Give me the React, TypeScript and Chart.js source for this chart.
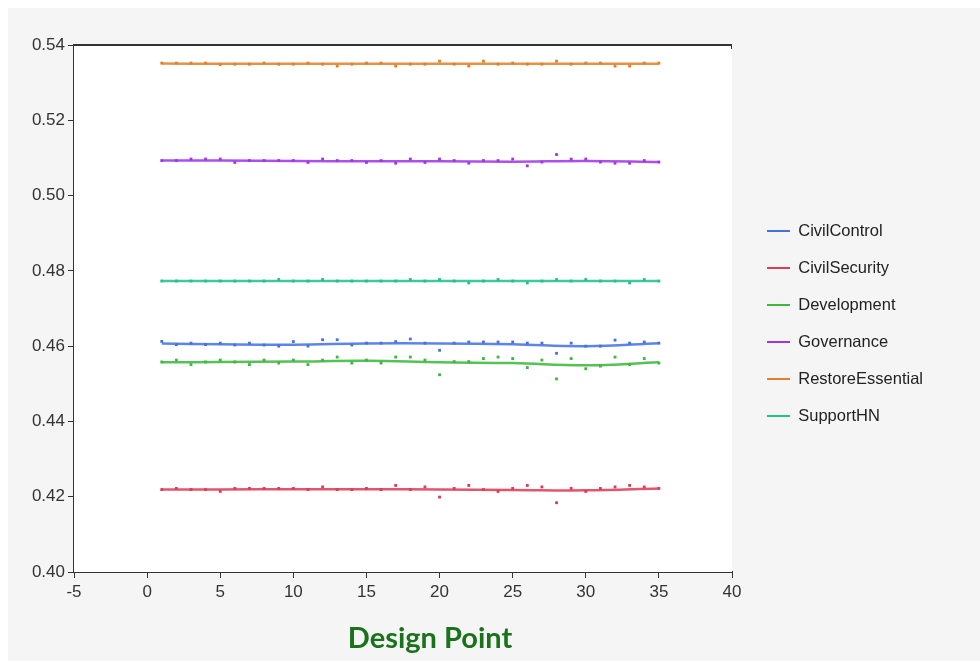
import React, { useEffect, useRef } from "react";
import { Chart, registerables } from "chart.js";

Chart.register(...registerables);

const SERIES = ["CivilControl", "CivilSecurity", "Development", "Governance", "RestoreEssential", "SupportHN"];
const COLORS = ["#4472e4", "#dc3c55", "#3cb83c", "#a035e8", "#e0822a", "#25c08f"];

const DESIGN_POINTS = [1,2,3,4,5,6,7,8,9,10,11,12,13,14,15,16,17,18,19,20,21,22,23,24,25,26,27,28,29,30,31,32,33,34,35];

const civilControl = [0.46125,0.4604,0.4608,0.4604,0.4608,0.4603,0.4608,0.4603,0.4600,0.4612,0.4600,0.4617,0.4617,0.4603,0.4608,0.4608,0.4612,0.4619,0.4608,0.4589,0.4608,0.4611,0.4611,0.4611,0.4611,0.4608,0.4608,0.4581,0.4608,0.4600,0.4600,0.4616,0.4608,0.4611,0.4608];
const civilSecurity = [0.4219,0.4222,0.4219,0.4219,0.4214,0.4222,0.4222,0.4222,0.4222,0.4222,0.4219,0.4226,0.4219,0.4219,0.4222,0.4219,0.4230,0.4219,0.4226,0.4199,0.4222,0.4230,0.4219,0.4214,0.4222,0.4230,0.4226,0.4184,0.4222,0.4214,0.4222,0.4226,0.4230,0.4226,0.4222];
const development = [0.4558,0.4563,0.4551,0.4558,0.4563,0.4558,0.4551,0.4563,0.4555,0.4563,0.4551,0.4563,0.4571,0.4555,0.4563,0.4555,0.4571,0.4571,0.4563,0.4524,0.4559,0.4559,0.4567,0.4571,0.4567,0.4543,0.4563,0.4513,0.4567,0.4540,0.4547,0.4571,0.4551,0.4567,0.4555];
const governance = [0.5093,0.5093,0.5097,0.5097,0.5097,0.5088,0.5093,0.5093,0.5093,0.5093,0.5088,0.5097,0.5093,0.5093,0.5088,0.5093,0.5086,0.5097,0.5088,0.5097,0.5093,0.5086,0.5093,0.5093,0.5097,0.5079,0.5089,0.5109,0.5097,0.5097,0.5089,0.5086,0.5086,0.5093,0.5089];
const restoreEssential = [0.5352,0.5352,0.5352,0.5352,0.5348,0.5349,0.5349,0.5352,0.5349,0.5349,0.5352,0.5349,0.5344,0.5349,0.5352,0.5352,0.5344,0.5349,0.5349,0.5357,0.5349,0.5344,0.5357,0.5349,0.5352,0.5349,0.5349,0.5357,0.5349,0.5352,0.5352,0.5344,0.5344,0.5352,0.5352];
const supportHN = [0.4773,0.4773,0.4773,0.4773,0.4773,0.4773,0.4773,0.4773,0.4777,0.4773,0.4773,0.4777,0.4773,0.4773,0.4773,0.4773,0.4773,0.4777,0.4773,0.4777,0.4773,0.4768,0.4773,0.4777,0.4773,0.4768,0.4773,0.4777,0.4773,0.4777,0.4773,0.4773,0.4768,0.4777,0.4773];

// smoothed trend at these design points
const TREND_X = [1, 5, 10, 15, 20, 25, 30, 35];
const civilControlTrend = [0.4607, 0.4605, 0.4604, 0.4607, 0.4607, 0.4605, 0.4600, 0.4608];
const civilSecurityTrend = [0.4219, 0.4219, 0.4220, 0.4220, 0.4219, 0.4218, 0.4217, 0.4222];
const developmentTrend = [0.4557, 0.4558, 0.4559, 0.4561, 0.4557, 0.4555, 0.4549, 0.4557];
const governanceTrend = [0.5093, 0.5093, 0.5092, 0.5091, 0.5091, 0.5090, 0.5092, 0.5089];
const restoreEssentialTrend = [0.5351, 0.5350, 0.5350, 0.5350, 0.5350, 0.5350, 0.5350, 0.5350];
const supportHNTrend = [0.4773, 0.4773, 0.4773, 0.4773, 0.4773, 0.4773, 0.4773, 0.4773];

const X_TICKS = [-5, 0, 5, 10, 15, 20, 25, 30, 35, 40];
const Y_TICKS = [0.40, 0.42, 0.44, 0.46, 0.48, 0.50, 0.52, 0.54];

const POINT_DATA = [civilControl, civilSecurity, development, governance, restoreEssential, supportHN];
const TREND_DATA = [civilControlTrend, civilSecurityTrend, developmentTrend, governanceTrend, restoreEssentialTrend, supportHNTrend];

const FONT = "'Liberation Sans', Arial, sans-serif";
const LEGEND_WIDTH = 200;

const plotFrame = {
  id: "plotFrame",
  beforeLayout(chart: any) {
    const lg = chart.legend;
    if (lg && !lg.__fixedWidth) {
      const orig = lg.fit;
      lg.fit = function () {
        orig.call(this);
        this.width = LEGEND_WIDTH;
      };
      lg.__fixedWidth = true;
    }
  },
  beforeDatasetsDraw(chart: any) {
    const { ctx, chartArea: a } = chart;
    ctx.save();
    ctx.fillStyle = "#ffffff";
    ctx.fillRect(a.left, a.top, a.right - a.left, a.bottom - a.top);
    ctx.restore();
  },
  afterDraw(chart: any) {
    const { ctx, chartArea: a } = chart;
    ctx.save();
    ctx.strokeStyle = "#333333";
    ctx.lineWidth = 2;
    ctx.beginPath();
    ctx.moveTo(a.left, a.top);
    ctx.lineTo(a.right, a.top);
    ctx.stroke();
    ctx.lineWidth = 1;
    ctx.beginPath();
    ctx.moveTo(a.right - 0.5, a.top);
    ctx.lineTo(a.right - 0.5, a.top + 4);
    ctx.stroke();
    ctx.restore();
  },
};

export default function App() {
  const ref = useRef<HTMLCanvasElement | null>(null);

  useEffect(() => {
    if (!ref.current) return;
    const datasets: any[] = [];
    SERIES.forEach((name, i) => {
      datasets.push({
        label: name,
        data: TREND_X.map((x, j) => ({ x, y: TREND_DATA[i][j] })),
        showLine: true,
        borderColor: COLORS[i] + "dd",
        backgroundColor: COLORS[i],
        borderWidth: 2.5,
        pointRadius: 0,
        tension: 0.4,
        order: 2,
      });
      datasets.push({
        label: name + " points",
        data: DESIGN_POINTS.map((x, j) => ({ x, y: POINT_DATA[i][j] })),
        showLine: false,
        pointStyle: "rect",
        pointRadius: 2,
        pointBorderWidth: 0,
        backgroundColor: COLORS[i],
        borderColor: COLORS[i],
        order: 1,
      });
    });

    const chart = new Chart(ref.current, {
      type: "scatter",
      data: { datasets },
      plugins: [plotFrame],
      options: {
        animation: false,
        responsive: false,
        layout: { padding: { left: 0, top: 45, right: 980 - 732 - 14.5 - LEGEND_WIDTH, bottom: 18 } },
        plugins: {
          tooltip: { enabled: false },
          legend: {
            position: "right",
            align: "center",
            fullSize: false,
            title: { display: true, text: "", font: { size: 10 }, padding: { top: 9, bottom: 9 } },
            labels: {
              boxWidth: 23,
              boxHeight: 2,
              padding: 20.5,
              color: "#222222",
              font: { family: FONT, size: 16.5 },
              generateLabels: () =>
                SERIES.map((s, i) => ({
                  text: s,
                  fillStyle: COLORS[i],
                  strokeStyle: COLORS[i],
                  fontColor: "#222222",
                  lineWidth: 0,
                  hidden: false,
                  datasetIndex: i * 2,
                })),
            },
          },
        },
        scales: {
          x: {
            type: "linear",
            position: "bottom",
            min: X_TICKS[0],
            max: X_TICKS[X_TICKS.length - 1],
            afterBuildTicks: (s: any) => { s.ticks = X_TICKS.map((v) => ({ value: v })); },
            afterFit: (s: any) => { s.height = 30; },
            ticks: { color: "#333333", font: { family: FONT, size: 17 }, padding: 4, maxRotation: 0, autoSkip: false, callback: (v: any) => String(v) },
            grid: { drawOnChartArea: false, drawTicks: true, tickLength: 6, color: "#333333" },
            border: { display: true, color: "#333333", width: 2 },
          },
          y: {
            type: "linear",
            position: "left",
            min: Y_TICKS[0],
            max: Y_TICKS[Y_TICKS.length - 1],
            afterBuildTicks: (s: any) => { s.ticks = Y_TICKS.map((v) => ({ value: v })); },
            afterFit: (s: any) => { s.width = 74; },
            ticks: { color: "#333333", font: { family: FONT, size: 17 }, padding: 3, autoSkip: false, callback: (v: any) => Number(v).toFixed(2) },
            grid: { drawOnChartArea: false, drawTicks: true, tickLength: 6, color: "#333333" },
            border: { display: true, color: "#333333", width: 2 },
          },
          spacer: {
            type: "linear",
            position: "right",
            display: true,
            afterFit: (s: any) => { s.width = 14.5; },
            ticks: { display: false },
            grid: { display: false },
            border: { display: false },
          },
        },
      } as any,
    });
    return () => chart.destroy();
  }, []);

  return (
    <div style={{ position: "fixed", left: 0, top: 0, width: 980, height: 661, background: "#ffffff", overflow: "hidden" }}>
      <div style={{ position: "absolute", left: 8, top: 8, right: 0, bottom: 0, background: "#f5f5f5" }} />
      <canvas ref={ref} width={980} height={620} style={{ position: "absolute", left: 0, top: 0, width: 980, height: 620 }} />
      <div
        style={{
          position: "absolute",
          left: 230,
          width: 400,
          top: 619,
          textAlign: "center",
          fontFamily: "Lato, 'Open Sans', sans-serif",
          fontWeight: 700,
          fontSize: 29,
          color: "#1a731a",
          lineHeight: "36px",
        }}
      >
        Design Point
      </div>
    </div>
  );
}
